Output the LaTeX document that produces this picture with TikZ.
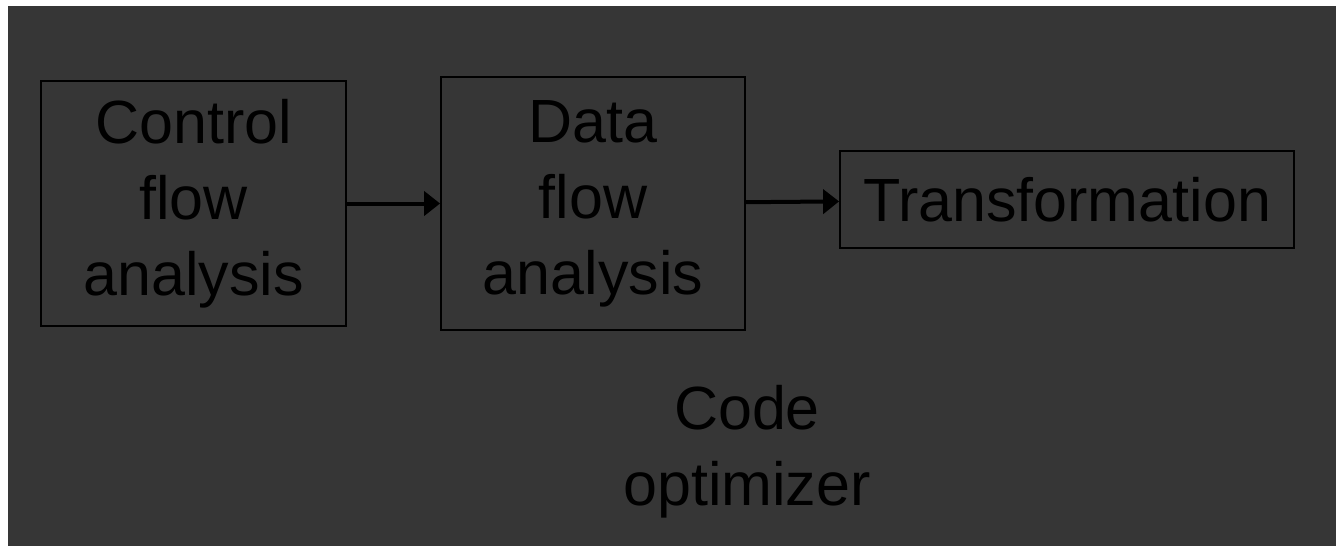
\documentclass[tikz,border=0pt]{standalone}
\usepackage{fontspec}
\setmainfont{Liberation Sans}
\usetikzlibrary{arrows.meta}
\definecolor{bgdark}{HTML}{363636}
\begin{document}
\begin{tikzpicture}[x=1pt,y=-1pt,
  blk/.style={draw=black, line width=1.8pt, inner sep=0pt, align=center,
    font=\fontsize{61}{76}\selectfont, text=black},
  lbl/.style={inner sep=0pt, align=center, font=\fontsize{61}{76}\selectfont, text=black},
  arr/.style={-{Triangle[length=16pt,width=24pt]}, line width=4pt, draw=black}]
\useasboundingbox (0,0) rectangle (1336,546);
\fill[bgdark] (8,6) rectangle (1336,546);
\node[blk, minimum width=305pt, minimum height=245pt] (cfa) at (193.5,203.5) {Control\\flow\\analysis};
\node[blk, minimum width=304pt, minimum height=253pt] (dfa) at (593,203.5) {Data\\flow\\analysis};
\node[blk, minimum width=454pt, minimum height=97pt] (tr) at (1067,199.5) {Transformation};
\node[lbl] (co) at (747,452) {Code\\optimizer};
\draw[arr] (cfa) -- (dfa);
\draw[arr] (dfa) -- (tr);
\end{tikzpicture}
\end{document}
